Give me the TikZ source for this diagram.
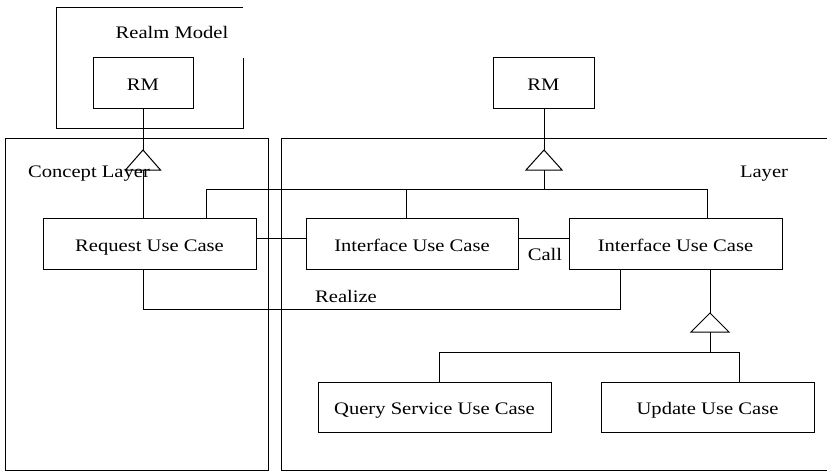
\documentclass[tikz,border=0pt]{standalone}
\usepackage{fontspec}
\setmainfont{Liberation Serif}[FakeStretch=1.17]
\begin{document}
\begin{tikzpicture}[x=1pt,y=-1pt,line width=1pt,
  box/.style={draw,rectangle,inner sep=0pt,minimum height=51pt,text height=15pt,text depth=0pt},
  lbl/.style={inner sep=0pt},
  every node/.append style={font=\fontsize{17.6}{20}\selectfont}]
\useasboundingbox (0,0) rectangle (827,471);
\fill[white] (0,0) rectangle (827,471);
% frames
\draw (243,7) -- (56,7) -- (56,128) -- (243,128) -- (243,58);
\draw (5,138) rectangle (268,470);
\draw (827,138) -- (281,138) -- (281,470) -- (827,470);
% boxes
\node[box,minimum width=100pt] (rmL) at (143,82.5) {RM};
\node[box,minimum width=101pt] (rmR) at (543.5,82.5) {RM};
\node[box,minimum width=213pt] (req) at (149.5,243.5) {Request Use Case};
\node[box,minimum width=212pt] (if1) at (412,243.5) {Interface Use Case};
\node[box,minimum width=213pt] (if2) at (675.5,243.5) {Interface Use Case};
\node[box,minimum width=233pt,minimum height=50pt] (qry) at (434.5,407) {Query Service Use Case};
\node[box,minimum width=213pt,minimum height=50pt] (upd) at (707.5,407) {Update Use Case};
% generalization left
\coordinate (apexL) at (143,150);
\coordinate (baseL) at (143,170);
\draw (rmL.south) -- (apexL);
\draw[fill=white] (apexL) -- (125.5,170) -- (160.5,170) -- cycle;
\draw (baseL) -- (baseL |- req.north);
% generalization right
\coordinate (apexR) at (544,150);
\coordinate (baseR) at (544,170);
\coordinate (busR) at (544,189);
\draw (rmR.south -| apexR) -- (apexR);
\draw[fill=white] (apexR) -- (526,170) -- (562,170) -- cycle;
\draw (baseR) -- (busR);
\draw ([xshift=56.5pt]req.north) |- ([xshift=31.5pt]if2.north |- busR) -- ([xshift=31.5pt]if2.north);
\draw ([xshift=-6pt]if1.north) -- ([xshift=-6pt]if1.north |- busR);
% associations
\draw ([yshift=5.5pt]req.east) -- ([yshift=5.5pt]if1.west);
\draw ([yshift=5.5pt]if1.east) -- ([yshift=5.5pt]if2.west);
\draw ([xshift=-6.5pt]req.south) -- ++(0,40) -| ([xshift=-55.5pt]if2.south);
% generalization lower
\coordinate (apexQ) at (710,313);
\coordinate (baseQ) at (710,332);
\coordinate (busQ) at (710,352);
\draw (apexQ |- if2.south) -- (apexQ);
\draw[fill=white] (apexQ) -- (691,332) -- (729,332) -- cycle;
\draw (baseQ) -- (busQ);
\draw ([xshift=4.5pt]qry.north) |- ([xshift=31.5pt]upd.north |- busQ) -- ([xshift=31.5pt]upd.north);
% labels
\node[lbl] (realm) at (172,32) {Realm Model};
\node[lbl] (concept) at (89,174) {Concept Layer};
\node[lbl] (layer) at (764,174) {Layer};
\node[lbl] (call) at (545,254) {Call};
\node[lbl] (realize) at (346,296) {Realize};
\end{tikzpicture}
\end{document}
